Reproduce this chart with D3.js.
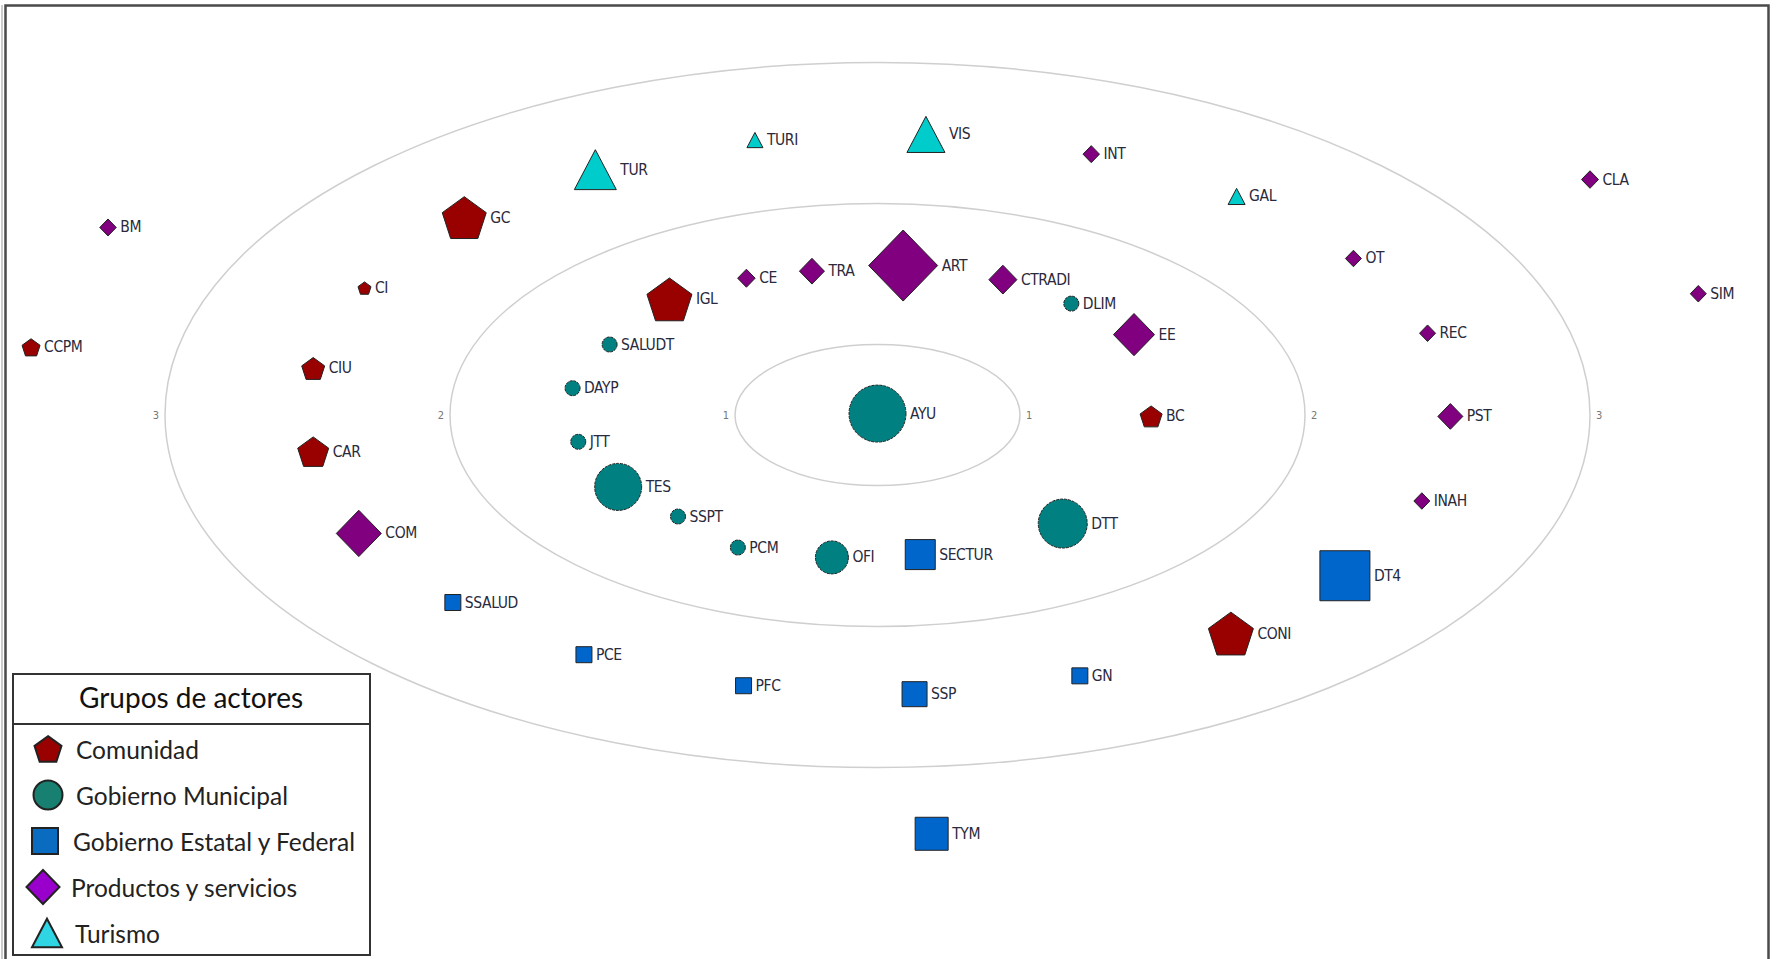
<!DOCTYPE html>
<html>
<head>
<meta charset="utf-8">
<script src="https://d3js.org/d3.v7.min.js"></script>
<style>
  body { margin: 0; background: #fff; }
  svg { display: block; }
</style>
</head>
<body>
<div id="vis"></div>
<script>
  // grupos de actores (legend order)
  var groups = ["Comunidad", "Gobierno Municipal", "Gobierno Estatal y Federal", "Productos y servicios", "Turismo"]

  // actors: name, group index, position (x, y in ring units), weight
  var actors = ["GC", "CI", "CCPM", "CIU", "CAR", "IGL", "BC", "CONI",
                "AYU", "SALUDT", "DAYP", "JTT", "TES", "SSPT", "PCM", "OFI", "DTT", "DLIM",
                "SECTUR", "SSALUD", "PCE", "PFC", "SSP", "GN", "DT4", "TYM",
                "BM", "CE", "TRA", "ART", "CTRADI", "EE", "INT", "CLA", "OT", "SIM", "REC", "PST", "INAH", "COM",
                "TUR", "TURI", "VIS", "GAL"]
  var actorGroup = [0, 0, 0, 0, 0, 0, 0, 0,
                    1, 1, 1, 1, 1, 1, 1, 1, 1, 1,
                    2, 2, 2, 2, 2, 2, 2, 2,
                    3, 3, 3, 3, 3, 3, 3, 3, 3, 3, 3, 3, 3, 3,
                    4, 4, 4, 4]
  var posX = [-1.45, -1.80, -2.97, -1.98, -1.98, -0.73, 0.96, 1.24,
              0.00, -0.94, -1.07, -1.05, -0.91, -0.70, -0.49, -0.16, 0.65, 0.68,
              0.15, -1.49, -1.03, -0.47, 0.13, 0.71, 1.64, 0.19,
              -2.70, -0.46, -0.23, 0.09, 0.44, 0.90, 0.75, 2.50, 1.67, 2.88, 1.93, 2.01, 1.91, -1.82,
              -0.99, -0.43, 0.17, 1.26]
  var posY = [1.40, 0.90, 0.48, 0.33, -0.26, 0.82, -0.01, -1.55,
              0.01, 0.50, 0.19, -0.19, -0.51, -0.72, -0.94, -1.01, -0.77, 0.79,
              -0.99, -1.33, -1.70, -1.92, -1.98, -1.85, -1.14, -2.97,
              1.33, 0.97, 1.02, 1.06, 0.96, 0.57, 1.85, 1.67, 1.11, 0.86, 0.58, -0.01, -0.61, -0.84,
              1.74, 1.95, 1.99, 1.55]
  var weight = [7.0, 0.8, 1.8, 2.8, 4.4, 7.2, 2.6, 7.2,
                9.6, 1.2, 1.2, 1.2, 7.6, 1.2, 1.2, 4.8, 8.0, 1.2,
                4.2, 1.4, 1.4, 1.4, 3.2, 1.4, 8.2, 4.8,
                1.5, 1.7, 3.2, 12.0, 3.8, 6.4, 1.5, 1.6, 1.4, 1.4, 1.4, 3.2, 1.4, 7.2,
                6.6, 1.4, 5.8, 1.6]

  // concentric rings
  var ringLabels = ["1", "2", "3"]
  var ringRadius = [0.5, 1.5, 2.5]

  var shapes = ["pentagon", "circle", "square", "diamond", "triangle"]
  var markColors = ["#990000", "#008080", "#0066cc", "#800080", "#00cccc"]
  var legendColors = ["#990000", "#178070", "#0a6cc0", "#9900cc", "#30d5e3"]

  var W = 1777, H = 959
  var cx = 877.5, cy = 415

  var svg = d3.select("#vis").append("svg")
    .attr("width", W)
    .attr("height", H)

  svg.append("rect").attr("width", W).attr("height", H).attr("fill", "#fff")

  // scales
  var x = d3.scaleLinear().domain([-1, 1]).range([cx - 285, cx + 285])
  var y = d3.scaleLinear().domain([-1, 1]).range([cy + 141, cy - 141])
  var size = d3.scaleLinear().domain([0, 12]).range([9, 69])

  // frame
  svg.append("rect")
    .attr("x", 5.5).attr("y", 5.5)
    .attr("width", 1763).attr("height", 980)
    .attr("fill", "none")
    .attr("stroke", "#4a4a4a")
    .attr("stroke-width", 2.5)
  svg.append("line")
    .attr("x1", 2).attr("x2", 2).attr("y1", 5).attr("y2", H)
    .attr("stroke", "#999").attr("stroke-width", 1)

  // rings
  var rings = svg.append("g")
  ringRadius.forEach(function(r, i) {
    var rx = x(r) - x(0), ry = y(0) - y(r)
    rings.append("ellipse")
      .attr("cx", x(0)).attr("cy", y(0))
      .attr("rx", rx).attr("ry", ry)
      .attr("fill", "none")
      .attr("stroke", "#cfcfcf")
      .attr("stroke-width", 1.5)
    rings.append("text")
      .attr("x", x(-r) - 6).attr("y", y(0))
      .attr("text-anchor", "end")
      .attr("dominant-baseline", "central")
      .attr("font-family", "DejaVu Sans Condensed, DejaVu Sans")
      .attr("font-size", 11)
      .attr("fill", "#777")
      .text(ringLabels[i])
    rings.append("text")
      .attr("x", x(r) + 6).attr("y", y(0))
      .attr("text-anchor", "start")
      .attr("dominant-baseline", "central")
      .attr("font-family", "DejaVu Sans Condensed, DejaVu Sans")
      .attr("font-size", 11)
      .attr("fill", "#777")
      .text(ringLabels[i])
  })

  // shape path centred on its bounding box
  function shapePath(type, w) {
    if (type == "circle") {
      var r = w / 2
      return "M" + r + ",0A" + r + "," + r + " 0 1,1 " + (-r) + ",0A" + r + "," + r + " 0 1,1 " + r + ",0Z"
    }
    if (type == "square") {
      var s = w / 2
      return "M" + (-s) + "," + (-s) + "H" + s + "V" + s + "H" + (-s) + "Z"
    }
    if (type == "diamond") {
      var h = w * 1.03
      return "M0," + (-h / 2) + "L" + (w / 2) + ",0L0," + (h / 2) + "L" + (-w / 2) + ",0Z"
    }
    if (type == "triangle") {
      var h = w * 0.95
      return "M0," + (-h / 2) + "L" + (w / 2) + "," + (h / 2) + "L" + (-w / 2) + "," + (h / 2) + "Z"
    }
    // pentagon
    var R = w / 1.902, dy = 0.0955 * R, pts = []
    for (var k = 0; k < 5; k++) {
      var a = (-90 + k * 72) * Math.PI / 180
      pts.push([R * Math.cos(a), R * Math.sin(a) + dy])
    }
    return "M" + pts.map(function(p) { return p[0].toFixed(2) + "," + p[1].toFixed(2) }).join("L") + "Z"
  }

  var data = actors.map(function(name, i) {
    return {name: name, g: actorGroup[i], x: posX[i], y: posY[i], w: weight[i]}
  })

  // nodes
  var nodes = svg.append("g").selectAll("g")
    .data(data)
    .enter()
    .append("g")
      .attr("transform", function(d) { return "translate(" + x(d.x) + "," + y(d.y) + ")" })

  nodes.append("path")
    .attr("d", function(d) { return shapePath(shapes[d.g], size(d.w)) })
    .attr("fill", function(d) { return markColors[d.g] })
    .attr("stroke", "#222")
    .attr("stroke-width", 1)
    .attr("stroke-dasharray", function(d) { return d.g == 1 ? "3,1" : null })

  nodes.append("text")
    .attr("x", function(d) { return size(d.w) / 2 + 4 })
    .attr("y", 0)
    .attr("dominant-baseline", "central")
    .attr("font-family", "DejaVu Sans Condensed, DejaVu Sans")
    .attr("font-size", 15.5)
    .attr("letter-spacing", -0.4)
    .attr("fill", "#2a2a3c")
    .text(function(d) { return d.name })

  // legend
  var legend = svg.append("g")
  legend.append("rect")
    .attr("x", 13).attr("y", 674)
    .attr("width", 357).attr("height", 281)
    .attr("fill", "#fff")
    .attr("stroke", "#333")
    .attr("stroke-width", 2)
  legend.append("line")
    .attr("x1", 13).attr("x2", 370)
    .attr("y1", 724).attr("y2", 724)
    .attr("stroke", "#333")
    .attr("stroke-width", 2)
  legend.append("text")
    .attr("x", 191).attr("y", 708)
    .attr("text-anchor", "middle")
    .attr("font-family", "Lato, Open Sans, sans-serif")
    .attr("font-size", 28)
    .attr("fill", "#111")
    .text("Grupos de actores")

  var legendSize = [27, 29, 26, 33, 30]
  var legendX = [48, 48, 45, 43, 47]
  var ly = d3.scalePoint().domain(groups).range([749, 933])

  var items = legend.selectAll("g.item")
    .data(groups)
    .enter()
    .append("g")
      .attr("class", "item")
      .attr("transform", function(d) { return "translate(0," + ly(d) + ")" })

  items.append("path")
    .attr("transform", function(d, i) { return "translate(" + legendX[i] + ",0)" })
    .attr("d", function(d, i) { return shapePath(shapes[i], legendSize[i]) })
    .attr("fill", function(d, i) { return legendColors[i] })
    .attr("stroke", "#222")
    .attr("stroke-width", 2)

  items.append("text")
    .attr("x", function(d, i) { return legendX[i] + 28 })
    .attr("y", 0)
    .attr("dominant-baseline", "central")
    .attr("font-family", "Lato, Open Sans, sans-serif")
    .attr("font-size", 24.5)
    .attr("fill", "#222")
    .text(function(d) { return d })
</script>
</body>
</html>
